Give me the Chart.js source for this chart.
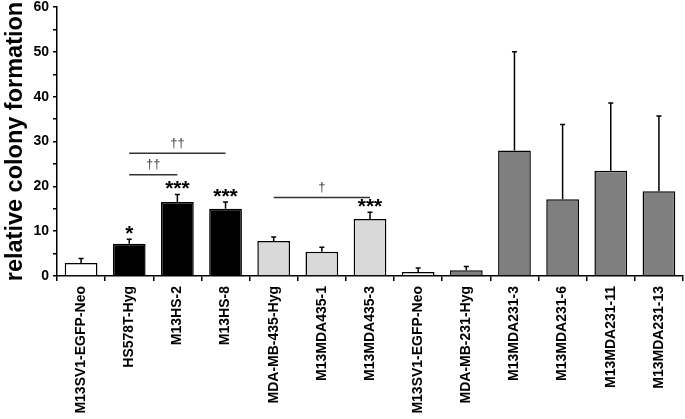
<!DOCTYPE html>
<html>
<head>
<meta charset="utf-8">
<script src="https://cdn.jsdelivr.net/npm/chart.js@4/dist/chart.umd.min.js"></script>
<style>
html,body{margin:0;padding:0;background:#fff;}
#wrap{width:685px;height:419px;}
</style>
</head>
<body>
<div id="wrap"><canvas id="c" width="685" height="419"></canvas></div>
<script>
const categories = ["M13SV1-EGFP-Neo","HS578T-Hyg","M13HS-2","M13HS-8","MDA-MB-435-Hyg","M13MDA435-1","M13MDA435-3","M13SV1-EGFP-Neo","MDA-MB-231-Hyg","M13MDA231-3","M13MDA231-6","M13MDA231-11","M13MDA231-13"];
const values = [2.9, 7.2, 16.5, 15.0, 7.8, 5.4, 12.7, 0.9, 1.3, 28.0, 17.1, 23.5, 18.9];
const errors = [1.0, 1.0, 1.7, 1.5, 0.9, 1.0, 1.5, 0.9, 0.8, 22.0, 16.7, 15.1, 16.8];
const barColors = ["#ffffff","#000000","#000000","#000000","#d9d9d9","#d9d9d9","#d9d9d9","#ffffff","#7f7f7f","#7f7f7f","#7f7f7f","#7f7f7f","#7f7f7f"];
const stars = ["", "*", "***", "***", "", "", "***", "", "", "", "", "", ""];
const sigFrom = [1, 1, 4];
const sigTo = [3, 2, 6];
const sigY = [27.4, 22.6, 17.5];
const sigLabel = ["\u2020\u2020", "\u2020\u2020", "\u2020"];
const yTicks = [0, 10, 20, 30, 40, 50, 60];

const FONT = "'Liberation Sans', Arial, sans-serif";

const overlay = {
  id: 'overlay',
  afterDatasetsDraw(chart) {
    const ctx = chart.ctx;
    const meta = chart.getDatasetMeta(0);
    const ys = chart.scales.y;
    const xs = chart.scales.x;
    ctx.save();
    ctx.strokeStyle = '#000';
    ctx.lineWidth = 1.5;
    meta.data.forEach((bar, i) => {
      const top = ys.getPixelForValue(values[i]);
      const et = ys.getPixelForValue(values[i] + errors[i]);
      ctx.beginPath();
      ctx.moveTo(bar.x, top);
      ctx.lineTo(bar.x, et);
      ctx.moveTo(bar.x - 2.5, et);
      ctx.lineTo(bar.x + 2.5, et);
      ctx.stroke();
      if (stars[i]) {
        ctx.fillStyle = '#000';
        ctx.font = "bold 21px " + FONT;
        ctx.textAlign = 'center';
        ctx.textBaseline = 'alphabetic';
        ctx.fillText(stars[i], bar.x, et + 1);
      }
    });
    for (let k = 0; k < sigFrom.length; k++) {
      const x1 = xs.getPixelForValue(sigFrom[k]);
      const x2 = xs.getPixelForValue(sigTo[k]);
      const y = ys.getPixelForValue(sigY[k]);
      ctx.strokeStyle = '#333';
      ctx.lineWidth = 1.5;
      ctx.beginPath();
      ctx.moveTo(x1, y);
      ctx.lineTo(x2, y);
      ctx.stroke();
      ctx.fillStyle = '#444';
      ctx.font = "13px " + FONT;
      ctx.textAlign = 'center';
      ctx.textBaseline = 'middle';
      ctx.fillText(sigLabel[k], (x1 + x2) / 2, y - 10);
    }
    ctx.restore();
  }
};

new Chart(document.getElementById('c'), {
  type: 'bar',
  data: {
    labels: categories,
    datasets: [{
      data: values,
      backgroundColor: barColors,
      borderColor: '#000',
      borderWidth: 1.5,
      borderSkipped: 'bottom',
      barPercentage: 0.68,
      categoryPercentage: 1.0
    }]
  },
  options: {
    responsive: false,
    animation: false,
    devicePixelRatio: 1,
    layout: { padding: { top: 7, right: 2, left: 0, bottom: 0 } },
    plugins: { legend: { display: false }, tooltip: { enabled: false } },
    scales: {
      x: {
        grid: { drawOnChartArea: false, tickLength: 5, color: '#000', lineWidth: 1.5 },
        border: { color: '#000', width: 1.5 },
        ticks: {
          color: '#000', minRotation: 90, maxRotation: 90, autoSkip: false, padding: 5,
          font: { family: FONT, size: 14, weight: 'bold' }
        },
        afterFit(scale) { scale.height = 143; scale.paddingLeft = 0; scale.paddingRight = 0; }
      },
      y: {
        min: 0, max: 60,
        grid: { drawOnChartArea: false, tickLength: 4, color: '#000', lineWidth: 1.5 },
        border: { color: '#000', width: 1.5 },
        ticks: {
          stepSize: 5, color: '#000', padding: 4,
          font: { family: FONT, size: 14, weight: 'bold' },
          callback: (v) => yTicks.includes(v) ? String(v) : ''
        },
        title: {
          display: true, text: 'relative colony formation', color: '#000',
          font: { family: FONT, size: 23.5, weight: 'bold' }, padding: { top: 1, bottom: 0 }
        },
        afterFit(scale) { scale.width = 57; scale.paddingTop = 0; scale.paddingBottom = 0; }
      }
    }
  },
  plugins: [overlay]
});
</script>
</body>
</html>
